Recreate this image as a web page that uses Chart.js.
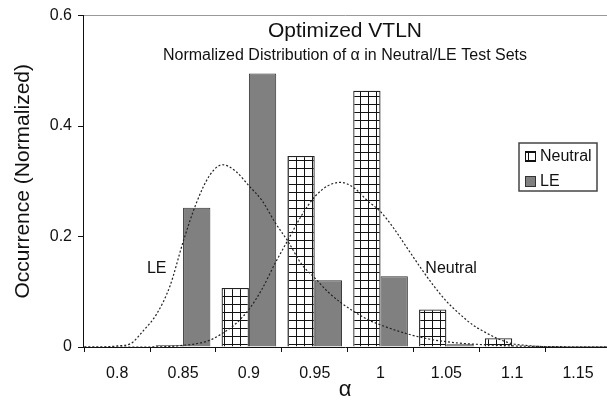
<!DOCTYPE html>
<html>
<head>
<meta charset="utf-8">
<script src="https://cdn.jsdelivr.net/npm/chart.js@4"></script>
<style>
  body { margin: 0; background: #fff; }
</style>
</head>
<body>
<canvas id="vtln" width="607" height="400"></canvas>
<script>
// bins of alpha (bar centres)
const alphaBins = [0.85, 0.9, 0.95, 1.0, 1.05, 1.1];
const neutralCounts = [0.003, 0.107, 0.346, 0.464, 0.068, 0.016];
const leCounts = [0.252, 0.495, 0.121, 0.128, 0.005, 0.001];

// dotted fitted curves
const leCurveX = [0.775, 0.79, 0.80, 0.81, 0.82, 0.83, 0.84, 0.85, 0.86, 0.87, 0.88, 0.89, 0.90, 0.91, 0.92, 0.93, 0.94, 0.95, 0.96, 0.97, 0.98, 0.99, 1.00, 1.02, 1.04, 1.06, 1.08, 1.10, 1.12, 1.175];
const leCurveY = [0.000, 0.000, 0.002, 0.006, 0.030, 0.060, 0.110, 0.190, 0.260, 0.310, 0.330, 0.318, 0.292, 0.265, 0.225, 0.190, 0.150, 0.125, 0.100, 0.080, 0.064, 0.050, 0.040, 0.024, 0.013, 0.007, 0.004, 0.002, 0.001, 0.000];
const neutralCurveX = [0.775, 0.82, 0.84, 0.85, 0.86, 0.87, 0.88, 0.89, 0.90, 0.91, 0.92, 0.93, 0.94, 0.95, 0.96, 0.97, 0.98, 0.99, 1.00, 1.01, 1.02, 1.03, 1.04, 1.05, 1.06, 1.07, 1.08, 1.09, 1.10, 1.11, 1.12, 1.14, 1.175];
const neutralCurveY = [0.000, 0.000, 0.001, 0.003, 0.006, 0.012, 0.025, 0.042, 0.068, 0.105, 0.152, 0.195, 0.238, 0.272, 0.292, 0.298, 0.288, 0.265, 0.245, 0.215, 0.180, 0.145, 0.112, 0.083, 0.060, 0.040, 0.026, 0.014, 0.006, 0.003, 0.001, 0.000, 0.000];

const yTicks = [0, 0.2, 0.4, 0.6];

const FONT = "'Liberation Sans', Arial, sans-serif";

// motif quadrillé pour Neutral
function gridPattern() {
  const c = document.createElement('canvas');
  c.width = 8; c.height = 8;
  const g = c.getContext('2d');
  g.fillStyle = '#fff';
  g.fillRect(0, 0, 8, 8);
  g.fillStyle = '#111';
  g.fillRect(0, 0, 8, 1);
  g.fillRect(0, 0, 1, 8);
  return g.createPattern(c, 'repeat');
}
const neutralFill = gridPattern();

function pts(xs, ys) {
  return xs.map((x, i) => ({ x: x, y: ys[i] }));
}

// textes dans la zone du graphe + légende encadrée
const overlay = {
  id: 'overlay',
  afterDraw(chart) {
    const ctx = chart.ctx;
    const a = chart.chartArea;
    const sx = chart.scales.x, sy = chart.scales.y;
    const cx = (a.left + a.right) / 2;
    ctx.save();
    ctx.fillStyle = '#111';
    ctx.textAlign = 'center';
    ctx.textBaseline = 'alphabetic';
    ctx.font = '21px ' + FONT;
    ctx.fillText('Optimized VTLN', cx, 37);
    ctx.font = '16px ' + FONT;
    ctx.fillText('Normalized Distribution of α in Neutral/LE Test Sets', cx, 60);

    ctx.textBaseline = 'middle';
    ctx.fillText('LE', sx.getPixelForValue(0.830), sy.getPixelForValue(0.142));
    ctx.fillText('Neutral', sx.getPixelForValue(1.0536), sy.getPixelForValue(0.142));

    // légende
    const bx = 519, by = 143, bw = 78, bh = 48;
    ctx.fillStyle = '#fff';
    ctx.fillRect(bx, by, bw, bh);
    ctx.strokeStyle = '#444';
    ctx.lineWidth = 1.5;
    ctx.strokeRect(bx, by, bw, bh);

    ctx.lineWidth = 1;
    ctx.fillStyle = neutralFill;
    ctx.fillRect(525.5, 151.5, 10, 10);
    ctx.strokeStyle = '#111';
    ctx.strokeRect(525.5, 151.5, 10, 10);
    ctx.fillStyle = '#808080';
    ctx.fillRect(525.5, 176.5, 10, 10);
    ctx.strokeStyle = '#333';
    ctx.strokeRect(525.5, 176.5, 10, 10);

    ctx.fillStyle = '#111';
    ctx.textAlign = 'left';
    ctx.font = '16px ' + FONT;
    ctx.fillText('Neutral', 540, 157);
    ctx.fillText('LE', 540, 182);
    ctx.restore();
  }
};

new Chart(document.getElementById('vtln').getContext('2d'), {
  type: 'bar',
  data: {
    datasets: [
      {
        type: 'line',
        label: 'LE fit',
        data: pts(leCurveX, leCurveY),
        borderColor: '#222',
        borderWidth: 1.2,
        borderDash: [2, 2],
        pointRadius: 0,
        cubicInterpolationMode: 'monotone',
        fill: false,
        order: 0
      },
      {
        type: 'line',
        label: 'Neutral fit',
        data: pts(neutralCurveX, neutralCurveY),
        borderColor: '#222',
        borderWidth: 1.2,
        borderDash: [2, 2],
        pointRadius: 0,
        cubicInterpolationMode: 'monotone',
        fill: false,
        order: 0
      },
      {
        label: 'Neutral',
        data: pts(alphaBins, neutralCounts),
        backgroundColor: neutralFill,
        borderColor: '#222',
        borderWidth: 1.3,
        categoryPercentage: 0.83,
        barPercentage: 1.0,
        order: 1
      },
      {
        label: 'LE',
        data: pts(alphaBins, leCounts),
        backgroundColor: '#808080',
        borderColor: '#333',
        borderWidth: 1,
        categoryPercentage: 0.83,
        barPercentage: 1.0,
        order: 1
      }
    ]
  },
  options: {
    responsive: false,
    animation: false,
    layout: { padding: { top: 14, right: 0, left: 0, bottom: 0 } },
    plugins: {
      legend: { display: false },
      tooltip: { enabled: false }
    },
    scales: {
      x: {
        type: 'linear',
        min: 0.774,
        max: 1.172,
        offset: false,
        border: { display: true, color: '#111', width: 1 },
        grid: {
          offset: true,
          drawOnChartArea: false,
          drawTicks: true,
          tickLength: 5,
          color: '#111'
        },
        ticks: {
          stepSize: 0.05,
          includeBounds: false,
          autoSkip: false,
          maxRotation: 0,
          padding: 12,
          color: '#111',
          font: { family: FONT, size: 16 },
          callback: v => String(Number(v.toFixed(2)))
        },
        title: {
          display: true,
          text: 'α',
          color: '#111',
          font: { family: FONT, size: 22, lineHeight: 1 },
          padding: { top: 0, bottom: -1 }
        },
        afterFit: s => { s.height = 53; }
      },
      y: {
        min: 0,
        max: 0.6,
        border: { display: true, color: '#111', width: 1 },
        grid: {
          drawTicks: true,
          tickLength: 5,
          tickColor: '#111',
          color: c => (c.tick && c.tick.value === 0.6) ? '#999' : 'rgba(0,0,0,0)'
        },
        afterBuildTicks: s => { s.ticks = yTicks.map(v => ({ value: v })); },
        ticks: {
          padding: 6,
          color: '#111',
          font: { family: FONT, size: 16 },
          callback: v => String(v)
        },
        title: {
          display: true,
          text: 'Occurrence (Normalized)',
          color: '#111',
          font: { family: FONT, size: 21 },
          padding: { top: 11, bottom: 0 }
        },
        afterFit: s => { s.width = 83; }
      }
    }
  },
  plugins: [overlay]
});
</script>
</body>
</html>
